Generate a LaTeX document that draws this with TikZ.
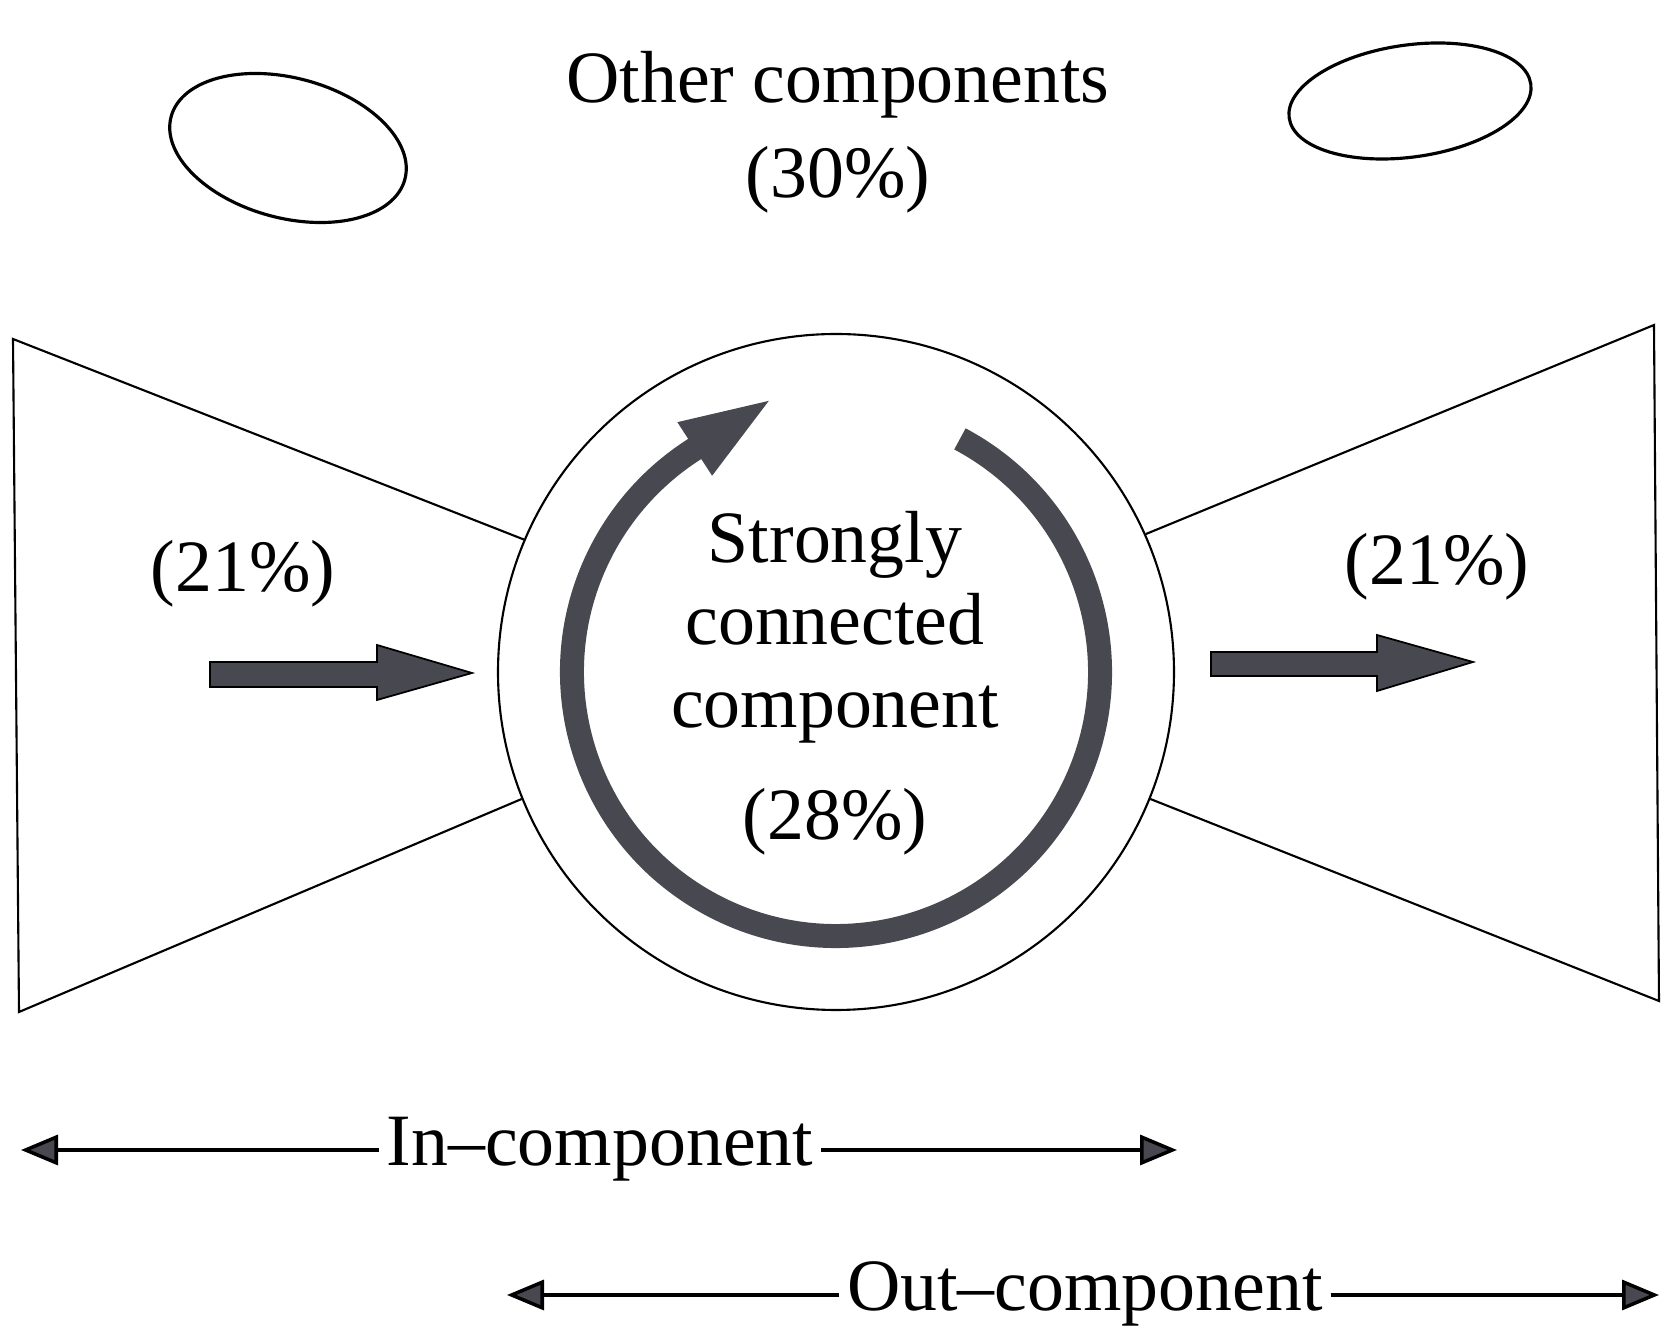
\documentclass[tikz,border=0pt]{standalone}
\usepackage{fontspec}
\setmainfont{Liberation Serif}
\usepackage{tikz}
\usetikzlibrary{arrows.meta}
\definecolor{arrowgray}{RGB}{72,72,80}

\begin{document}
\begin{tikzpicture}[scale=1,
	txt/.style={font=\fontsize{21}{23.5}\selectfont, inner sep=0pt},
	thinline/.style={line width=0.6pt},
	blockarrow/.style={fill=arrowgray, draw=black, line width=0.5pt},
	spanline/.style={line width=1pt, -{Triangle[length=0.37cm,width=0.30cm,fill=arrowgray]}}]
	\useasboundingbox (0,0) rectangle (16.73,13.33);
	% the core and the two wings
	\node[circle, draw, thinline, minimum size=6.76cm, inner sep=0pt] (scc) at (8.36,6.61) {};
	\draw[thinline] (scc.157) -- (0.13,9.94) -- (0.19,3.21) -- (scc.202);
	\draw[thinline] (scc.24) -- (16.54,10.08) -- (16.59,3.32) -- (scc.-22);
	\draw[arrowgray, line width=0.24cm, -{Triangle[length=0.97cm,width=0.55cm]}]
		(scc.center) ++(62:2.64) arc[start angle=62, end angle=-237, radius=2.64] -- ++(33:1.0);
	\node[txt, align=center] (scctext) at (8.35,6.50) {Strongly\\connected\\component\\[0.29cm](28\%)};
	% flows in and out
	\filldraw[blockarrow] (2.10,6.46) -- (3.77,6.46) -- (3.77,6.33) -- (4.72,6.60)
		-- (3.77,6.88) -- (3.77,6.71) -- (2.10,6.71) -- cycle;
	\filldraw[blockarrow] (12.11,6.57) -- (13.77,6.57) -- (13.77,6.42) -- (14.73,6.71)
		-- (13.77,6.98) -- (13.77,6.81) -- (12.11,6.81) -- cycle;
	\node[txt, anchor=base] (inpct) at (2.43,7.41) {(21\%)};
	\node[txt, anchor=base] (outpct) at (14.37,7.48) {(21\%)};
	% disconnected parts
	\draw[line width=0.9pt, rotate around={-15:(2.88,11.85)}] (2.88,11.85) ellipse (1.21 and 0.70);
	\draw[line width=0.9pt, rotate around={8:(14.10,12.32)}] (14.10,12.32) ellipse (1.22 and 0.56);
	\node[txt, align=center, font=\fontsize{21}{27}\selectfont] (other) at (8.38,12.01) {Other components\\(30\%)};
	% spans
	\coordinate (inleft) at (0.21,1.83);
	\coordinate (inright) at (11.77,1.83);
	\node[txt, anchor=base, inner xsep=2pt] (incomp) at (6.00,1.67) {In–component};
	\draw[spanline] (incomp.west |- inleft) -- (inleft);
	\draw[spanline] (incomp.east |- inright) -- (inright);
	\coordinate (outleft) at (5.07,0.38);
	\coordinate (outright) at (16.59,0.38);
	\node[txt, anchor=base, inner xsep=2pt] (outcomp) at (10.85,0.22) {Out–component};
	\draw[spanline] (outcomp.west |- outleft) -- (outleft);
	\draw[spanline] (outcomp.east |- outright) -- (outright);
\end{tikzpicture}
\end{document}
